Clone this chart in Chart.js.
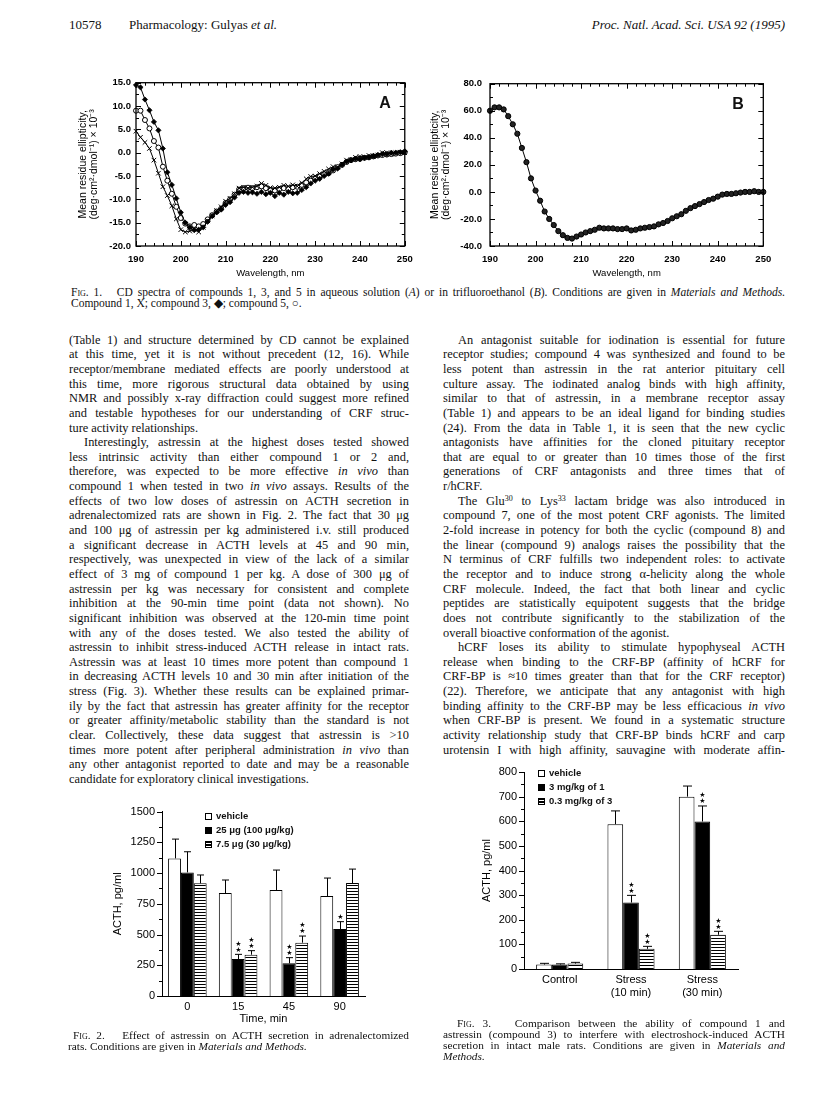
<!DOCTYPE html>
<html>
<head>
<meta charset="utf-8">
<script src="https://cdn.jsdelivr.net/npm/chart.js@4.4.1/dist/chart.umd.min.js"></script>
<style>
  body { margin: 0; background: #fff; }
  #page { position: relative; width: 816px; height: 1114px; overflow: hidden; color: #111; font-family: 'Liberation Serif', 'Times New Roman', serif; }
  canvas { position: absolute; }
  .hd { position: absolute; top: 17px; font-size: 13px; line-height: 16px; white-space: nowrap; }
  .col { position: absolute; font-size: 12.4px; line-height: 14.65px; }
  .cap { position: absolute; }
  .ln { white-space: nowrap; height: 1em; }
  .col .ln { height: 14.65px; }
  .ln span { display: inline-block; white-space: nowrap; }
  .ln sup { font-size: 8px; line-height: 0; vertical-align: 4px; }
  .sc { font-variant: small-caps; }
  .key { position: absolute; font: bold 9.5px 'Liberation Sans', Arial, sans-serif; line-height: 12px; white-space: nowrap; }
  .bx { display: inline-block; width: 5px; height: 5px; border: 1px solid #000; margin-right: 4px; vertical-align: -1px; background: #fff; }
  .bx.blk { background: #000; }
  .bx.str { background: repeating-linear-gradient(to bottom, #000 0 1px, #fff 1px 2.5px); }
  .tag { position: absolute; font: bold 16px 'Liberation Sans', Arial, sans-serif; transform: translate(-50%, -50%); }
</style>
</head>
<body>
<div id="page">
  <div class="hd" style="left:69px">10578</div>
  <div class="hd" style="left:129px">Pharmacology: Gulyas <i>et al.</i></div>
  <div class="hd" style="right:31px"><i>Proc. Natl. Acad. Sci. USA 92 (1995)</i></div>

  <canvas id="fig1a" width="380" height="215" style="left:40px;top:70px"></canvas>
  <canvas id="fig1b" width="380" height="215" style="left:420px;top:70px"></canvas>
  <div class="tag" style="left:385px;top:103px">A</div>
  <div class="tag" style="left:738px;top:104px">B</div>

  <div class="cap" data-w="714" data-ind="9" style="left:71px;top:285.5px;width:714px;font-size:11.5px;line-height:13px">
    <div class="ln"><span><span class="sc">Fig.</span> 1. &nbsp; CD spectra of compounds 1, 3, and 5 in aqueous solution (<i>A</i>) or in trifluoroethanol (<i>B</i>). Conditions are given in <i>Materials and Methods.</i></span></div>
    <div class="ln end"><span>Compound 1, X; compound 3, ◆; compound 5, ○.</span></div>
  </div>

  <div class="col" data-w="340" data-ind="15" style="left:69px;top:332.7px;width:340px">
    <div class="ln"><span>(Table 1) and structure determined by CD cannot be explained</span></div>
    <div class="ln"><span>at this time, yet it is not without precedent (12, 16). While</span></div>
    <div class="ln"><span>receptor/membrane mediated effects are poorly understood at</span></div>
    <div class="ln"><span>this time, more rigorous structural data obtained by using</span></div>
    <div class="ln"><span>NMR and possibly x-ray diffraction could suggest more refined</span></div>
    <div class="ln"><span>and testable hypotheses for our understanding of CRF struc-</span></div>
    <div class="ln end"><span>ture activity relationships.</span></div>
    <div class="ln ind"><span>Interestingly, astressin at the highest doses tested showed</span></div>
    <div class="ln"><span>less intrinsic activity than either compound 1 or 2 and,</span></div>
    <div class="ln"><span>therefore, was expected to be more effective <i>in vivo</i> than</span></div>
    <div class="ln"><span>compound 1 when tested in two <i>in vivo</i> assays. Results of the</span></div>
    <div class="ln"><span>effects of two low doses of astressin on ACTH secretion in</span></div>
    <div class="ln"><span>adrenalectomized rats are shown in Fig. 2. The fact that 30 μg</span></div>
    <div class="ln"><span>and 100 μg of astressin per kg administered i.v. still produced</span></div>
    <div class="ln"><span>a significant decrease in ACTH levels at 45 and 90 min,</span></div>
    <div class="ln"><span>respectively, was unexpected in view of the lack of a similar</span></div>
    <div class="ln"><span>effect of 3 mg of compound 1 per kg. A dose of 300 μg of</span></div>
    <div class="ln"><span>astressin per kg was necessary for consistent and complete</span></div>
    <div class="ln"><span>inhibition at the 90-min time point (data not shown). No</span></div>
    <div class="ln"><span>significant inhibition was observed at the 120-min time point</span></div>
    <div class="ln"><span>with any of the doses tested. We also tested the ability of</span></div>
    <div class="ln"><span>astressin to inhibit stress-induced ACTH release in intact rats.</span></div>
    <div class="ln"><span>Astressin was at least 10 times more potent than compound 1</span></div>
    <div class="ln"><span>in decreasing ACTH levels 10 and 30 min after initiation of the</span></div>
    <div class="ln"><span>stress (Fig. 3). Whether these results can be explained primar-</span></div>
    <div class="ln"><span>ily by the fact that astressin has greater affinity for the receptor</span></div>
    <div class="ln"><span>or greater affinity/metabolic stability than the standard is not</span></div>
    <div class="ln"><span>clear. Collectively, these data suggest that astressin is &gt;10</span></div>
    <div class="ln"><span>times more potent after peripheral administration <i>in vivo</i> than</span></div>
    <div class="ln"><span>any other antagonist reported to date and may be a reasonable</span></div>
    <div class="ln end"><span>candidate for exploratory clinical investigations.</span></div>
  </div>

  <div class="col" data-w="342" data-ind="15" style="left:443px;top:332.7px;width:342px">
    <div class="ln ind"><span>An antagonist suitable for iodination is essential for future</span></div>
    <div class="ln"><span>receptor studies; compound 4 was synthesized and found to be</span></div>
    <div class="ln"><span>less potent than astressin in the rat anterior pituitary cell</span></div>
    <div class="ln"><span>culture assay. The iodinated analog binds with high affinity,</span></div>
    <div class="ln"><span>similar to that of astressin, in a membrane receptor assay</span></div>
    <div class="ln"><span>(Table 1) and appears to be an ideal ligand for binding studies</span></div>
    <div class="ln"><span>(24). From the data in Table 1, it is seen that the new cyclic</span></div>
    <div class="ln"><span>antagonists have affinities for the cloned pituitary receptor</span></div>
    <div class="ln"><span>that are equal to or greater than 10 times those of the first</span></div>
    <div class="ln"><span>generations of CRF antagonists and three times that of</span></div>
    <div class="ln end"><span>r/hCRF.</span></div>
    <div class="ln ind"><span>The Glu<sup>30</sup> to Lys<sup>33</sup> lactam bridge was also introduced in</span></div>
    <div class="ln"><span>compound 7, one of the most potent CRF agonists. The limited</span></div>
    <div class="ln"><span>2-fold increase in potency for both the cyclic (compound 8) and</span></div>
    <div class="ln"><span>the linear (compound 9) analogs raises the possibility that the</span></div>
    <div class="ln"><span>N terminus of CRF fulfills two independent roles: to activate</span></div>
    <div class="ln"><span>the receptor and to induce strong α-helicity along the whole</span></div>
    <div class="ln"><span>CRF molecule. Indeed, the fact that both linear and cyclic</span></div>
    <div class="ln"><span>peptides are statistically equipotent suggests that the bridge</span></div>
    <div class="ln"><span>does not contribute significantly to the stabilization of the</span></div>
    <div class="ln end"><span>overall bioactive conformation of the agonist.</span></div>
    <div class="ln ind"><span>hCRF loses its ability to stimulate hypophyseal ACTH</span></div>
    <div class="ln"><span>release when binding to the CRF-BP (affinity of hCRF for</span></div>
    <div class="ln"><span>CRF-BP is ≈10 times greater than that for the CRF receptor)</span></div>
    <div class="ln"><span>(22). Therefore, we anticipate that any antagonist with high</span></div>
    <div class="ln"><span>binding affinity to the CRF-BP may be less efficacious <i>in vivo</i></span></div>
    <div class="ln"><span>when CRF-BP is present. We found in a systematic structure</span></div>
    <div class="ln"><span>activity relationship study that CRF-BP binds hCRF and carp</span></div>
    <div class="ln"><span>urotensin I with high affinity, sauvagine with moderate affin-</span></div>
  </div>

  <canvas id="fig2" width="300" height="235" style="left:80px;top:795px"></canvas>
  <div class="key" style="left:205px;top:810px"><i class="bx"></i>vehicle</div>
  <div class="key" style="left:205px;top:824px"><i class="bx blk"></i>25 μg (100 μg/kg)</div>
  <div class="key" style="left:205px;top:838px"><i class="bx str"></i>7.5 μg (30 μg/kg)</div>

  <div class="cap" data-w="341" data-ind="5" style="left:68px;top:1029.5px;width:341px;font-size:11.3px;line-height:11px">
    <div class="ln ind"><span><span class="sc">Fig.</span> 2. &nbsp; Effect of astressin on ACTH secretion in adrenalectomized</span></div>
    <div class="ln end"><span>rats. Conditions are given in <i>Materials and Methods.</i></span></div>
  </div>

  <canvas id="fig3" width="300" height="250" style="left:470px;top:755px"></canvas>
  <div class="key" style="left:538px;top:767px"><i class="bx"></i>vehicle</div>
  <div class="key" style="left:538px;top:781px"><i class="bx blk"></i>3 mg/kg of 1</div>
  <div class="key" style="left:538px;top:795px"><i class="bx str"></i>0.3 mg/kg of 3</div>

  <div class="cap" data-w="342" data-ind="14" style="left:443px;top:1017.5px;width:342px;font-size:11.3px;line-height:10.8px">
    <div class="ln ind"><span><span class="sc">Fig.</span> 3. &nbsp; Comparison between the ability of compound 1 and</span></div>
    <div class="ln"><span>astressin (compound 3) to interfere with electroshock-induced ACTH</span></div>
    <div class="ln"><span>secretion in intact male rats. Conditions are given in <i>Materials and</i></span></div>
    <div class="ln end"><span><i>Methods.</i></span></div>
  </div>
</div>

<script>
// ---- data: Fig. 1 (CD spectra), mean residue ellipticity x 10^-3
const wavelengths = [190,191,192,193,194,195,196,197,198,199,200,201,202,203,204,205,206,207,208,209,210,
  211,212,213,214,215,216,217,218,219,220,221,222,223,224,225,226,227,228,229,230,
  231,232,233,234,235,236,237,238,239,240,241,242,243,244,245,246,247,248,249,250]

// A: aqueous solution
const compound1A = [4.6,3.3,2.2,0.9,-1.6,-4.4,-7.3,-9.2,-11.4,-14.2,-16.5,-17.0,-16.8,-16.4,-17.0,-16.0,-14.6,-13.5,-12.4,-11.6,-10.4,
  -9.8,-8.8,-7.6,-7.4,-7.6,-7.4,-7.2,-6.6,-7.0,-7.5,-7.6,-7.4,-7.0,-7.2,-6.9,-7.2,-6.5,-5.6,-5.1,-5.0,
  -4.5,-4.0,-3.5,-3.0,-3.1,-2.4,-1.6,-1.5,-1.0,-0.8,-1.0,-0.6,-0.8,-0.5,0.0,0.0,-0.3,0.0,0.1,0.0]
const compound3A = [14.5,14.0,11.4,9.1,6.6,4.8,0.9,-4.2,-6.9,-9.8,-12.8,-15.0,-16.0,-16.6,-16.5,-16.0,-14.8,-13.6,-12.8,-12.2,-11.2,
  -10.6,-9.6,-8.6,-8.4,-8.6,-8.5,-8.8,-8.4,-8.9,-8.6,-9.3,-8.6,-9.0,-8.4,-8.7,-8.6,-8.0,-7.4,-6.6,-6.0,
  -5.6,-5.0,-4.5,-3.6,-3.4,-2.6,-1.9,-1.6,-1.3,-1.4,-1.1,-1.0,-0.7,-0.5,-0.3,-0.3,0.0,0.0,0.1,0.3]
const compound5A = [9.0,9.0,7.0,5.2,2.5,1.1,-3.0,-6.0,-8.8,-11.6,-14.0,-15.2,-15.8,-15.5,-15.8,-15.3,-14.3,-13.4,-12.6,-12.0,-10.8,
  -10.0,-9.0,-7.9,-7.6,-7.5,-7.6,-7.4,-7.2,-7.6,-8.0,-8.1,-7.8,-7.6,-7.8,-7.4,-7.3,-6.9,-6.4,-6.0,-5.5,
  -5.0,-4.6,-4.4,-3.8,-3.1,-2.6,-2.0,-1.6,-1.4,-1.3,-1.1,-1.0,-0.8,-0.6,-0.5,-0.4,-0.3,-0.2,-0.1,0.1]
// B: trifluoroethanol (the three compounds overlap)
const compoundsB = [60.0,62.5,62.5,61.0,56.0,50.0,43.0,32.5,22.0,10.0,1.0,-6.5,-14.5,-20.0,-24.5,-29.0,-32.0,-34.0,-34.5,-33.0,-31.5,
  -30.0,-29.0,-28.0,-26.5,-27.0,-27.0,-27.0,-27.5,-27.5,-27.0,-28.5,-28.0,-27.0,-26.5,-26.0,-25.5,-24.0,-23.0,-21.5,-19.5,
  -18.0,-16.5,-14.0,-12.0,-10.5,-9.0,-7.5,-6.0,-5.0,-3.5,-2.0,-1.5,-1.5,-1.0,-0.5,0.0,0.0,0.5,0.0,0.0]

// ---- data: Fig. 2 (ACTH, pg/ml, adrenalectomized rats)
const times = ['0', '15', '45', '90']
const vehicle2 = [1120, 838, 862, 814]
const vehicle2Err = [157, 106, 163, 146]
const dose25 = [1006, 301, 266, 545]
const dose25Err = [168, 38, 46, 60]
const dose25Stars = [0, 2, 2, 1]
const dose75 = [917, 336, 434, 919]
const dose75Err = [68, 33, 54, 114]
const dose75Stars = [0, 2, 2, 0]

// ---- data: Fig. 3 (ACTH, pg/ml, intact rats)
const groups = [['Control'], ['Stress', '(10 min)'], ['Stress', '(30 min)']]
const vehicle3 = [18, 588, 700]
const vehicle3Err = [5, 54, 43]
const comp1 = [18, 270, 599]
const comp1Err = [3, 29, 63]
const comp1Stars = [0, 2, 2]
const comp3 = [22, 82, 139]
const comp3Err = [5, 10, 14]
const comp3Stars = [0, 2, 2]

const yTitleCD = ['Mean residue ellipticity,', '(deg\u00b7cm\u00b2\u00b7dmol\u207b\u00b9) \u00d7 10\u207b\u00b3']

// ---- justify the text lines so they fill their column
document.querySelectorAll('.col, .cap').forEach(box => {
  const W = Number(box.dataset.w), ind = Number(box.dataset.ind)
  box.querySelectorAll('.ln').forEach(ln => {
    const span = ln.firstElementChild
    let avail = W
    if (ln.classList.contains('ind')) { span.style.marginLeft = ind + 'px'; avail -= ind }
    const w = span.getBoundingClientRect().width
    if (ln.classList.contains('end') && w <= avail) return
    const text = span.textContent
    const gaps = (text.match(/[ \u00a0]/g) || []).length
    let ws = gaps ? (avail - w) / gaps : 0
    if (ws < -1.2) {
      const rest = (avail - w) + 1.2 * gaps
      ws = -1.2
      span.style.letterSpacing = (rest / text.length) + 'px'
    }
    span.style.wordSpacing = ws + 'px'
  })
})

Chart.defaults.color = '#000'
Chart.defaults.font.family = "'Liberation Sans', Arial, sans-serif"
Chart.defaults.animation = false
Chart.defaults.responsive = false
Chart.defaults.plugins.legend.display = false
Chart.defaults.plugins.tooltip.enabled = false

// tick marks: inward on a closed frame (Fig. 1) or outward on the y axis (Figs. 2, 3)
const tickMarks = {
  id: 'tickMarks',
  afterDraw(chart, args, o) {
    if (!o.yMinor) return
    const {ctx, chartArea: a, scales: {x, y}} = chart
    ctx.save()
    ctx.strokeStyle = '#000'
    ctx.lineWidth = 1
    if (o.frame) {
      ctx.lineWidth = 1.3
      ctx.strokeRect(a.left, a.top, a.right - a.left, a.bottom - a.top)
      ctx.lineWidth = 1
    }
    ctx.beginPath()
    if (o.xMinor) {
      for (let v = x.min; v <= x.max + 1e-6; v += o.xMinor) {
        const px = Math.round(x.getPixelForValue(v)) + 0.5
        const len = Math.abs(v % o.xMajor) < 1e-6 ? 5 : 3
        ctx.moveTo(px, a.bottom); ctx.lineTo(px, a.bottom - len)
        ctx.moveTo(px, a.top); ctx.lineTo(px, a.top + len)
      }
    }
    for (let v = y.min; v <= y.max + 1e-6; v += o.yMinor) {
      const py = Math.round(y.getPixelForValue(v)) + 0.5
      const len = Math.abs(v % o.yMajor) < 1e-6 ? 5 : 3
      if (o.frame) {
        ctx.moveTo(a.left, py); ctx.lineTo(a.left + len, py)
        ctx.moveTo(a.right, py); ctx.lineTo(a.right - len, py)
      } else {
        ctx.moveTo(a.left - len, py); ctx.lineTo(a.left, py)
      }
    }
    ctx.stroke()
    ctx.restore()
  }
}

// upward error bars and significance stars on bar charts
const errorBars = {
  id: 'errorBars',
  afterDatasetsDraw(chart, args, o) {
    if (!o.cap) return
    const ctx = chart.ctx, y = chart.scales.y
    ctx.save()
    ctx.strokeStyle = '#000'
    ctx.fillStyle = '#000'
    ctx.lineWidth = 1
    ctx.font = "7px 'DejaVu Sans'"
    ctx.textAlign = 'center'
    ctx.textBaseline = 'middle'
    chart.data.datasets.forEach((ds, i) => {
      chart.getDatasetMeta(i).data.forEach((bar, j) => {
        const top = y.getPixelForValue(ds.data[j] + ds.errors[j])
        const bx = Math.round(bar.x) + 0.5
        ctx.beginPath()
        ctx.moveTo(bx, bar.y); ctx.lineTo(bx, top)
        ctx.moveTo(bx - o.cap, top); ctx.lineTo(bx + o.cap, top)
        ctx.stroke()
        const n = ds.stars ? ds.stars[j] : 0
        for (let k = 0; k < n; k++) ctx.fillText('\u2605', bx, top - 4.5 - 6 * k)
      })
    })
    ctx.restore()
  }
}

Chart.register(tickMarks, errorBars)

function stripes() {
  const c = document.createElement('canvas')
  c.width = 4; c.height = 3
  const g = c.getContext('2d')
  g.fillStyle = '#fff'; g.fillRect(0, 0, 4, 3)
  g.fillStyle = '#000'; g.fillRect(0, 0, 4, 1)
  return g.createPattern(c, 'repeat')
}

const toPts = ys => wavelengths.map((w, i) => ({x: w, y: ys[i]}))

function cdChart(id, datasets, yMin, yMax, yStep, yMinor, yw, padRight, yPad, titlePad) {
  return new Chart(document.getElementById(id), {
    type: 'line',
    data: {datasets},
    options: {
      layout: {autoPadding: false, padding: {top: 12.7, right: padRight, left: 0, bottom: 0}},
      elements: {line: {borderColor: '#000', borderWidth: 1, tension: 0}},
      scales: {
        x: {
          type: 'linear', min: 190, max: 250,
          grid: {display: false, drawTicks: false},
          border: {display: false},
          ticks: {stepSize: 10, padding: 7.3, font: {size: 9.5, weight: 'bold'}, maxRotation: 0, callback: v => String(v)},
          title: {display: true, text: 'Wavelength, nm', font: {size: 9.5}, padding: {top: 0, bottom: 6}},
          afterFit: s => { s.height = 39 }
        },
        y: {
          min: yMin, max: yMax,
          grid: {display: false, drawTicks: false},
          border: {display: false},
          ticks: {stepSize: yStep, padding: yPad, font: {size: 9.5, weight: 'bold'}, callback: v => v.toFixed(1)},
          title: {display: true, text: yTitleCD, font: {size: 10.5, lineHeight: 1.05}, padding: {top: titlePad, bottom: 0}},
          afterFit: s => { s.width = yw }
        }
      },
      plugins: {tickMarks: {frame: true, xMinor: 2, xMajor: 10, yMinor: yMinor, yMajor: yStep}}
    }
  })
}

cdChart('fig1a', [
  {label: 'Compound 1', data: toPts(compound1A), clip: false, pointStyle: 'crossRot', pointRadius: 3.2, pointBorderWidth: 1, pointBorderColor: '#000', pointBackgroundColor: '#000'},
  {label: 'Compound 3', data: toPts(compound3A), clip: false, pointStyle: 'rectRot', pointRadius: 2.6, pointBorderWidth: 0.8, pointBorderColor: '#000', pointBackgroundColor: '#000'},
  {label: 'Compound 5', data: toPts(compound5A), clip: false, pointStyle: 'circle', pointRadius: 2.5, pointBorderWidth: 1, pointBorderColor: '#000', pointBackgroundColor: '#fff'}
], -20, 15, 5, 2.5, 96, 11, 5, 37.2)

cdChart('fig1b', [
  {label: 'Compounds 1, 3, 5', data: toPts(compoundsB), clip: false, pointStyle: 'circle', pointRadius: 2.6, pointBorderWidth: 1, pointBorderColor: '#000', pointBackgroundColor: '#222'}
], -40, 80, 20, 10, 70, 36.7, 8, 9.5)

function barChart(id, labels, datasets, yMax, yStep, yMinor, yw, padTop, padRight, xh, titlePad, xTitle, cap, catPct) {
  return new Chart(document.getElementById(id), {
    type: 'bar',
    data: {labels, datasets},
    options: {
      layout: {autoPadding: false, padding: {top: padTop, right: padRight, left: 0, bottom: 0}},
      datasets: {bar: {categoryPercentage: catPct, barPercentage: 1, borderColor: '#000', borderWidth: 1}},
      scales: {
        x: {
          grid: {display: false, drawTicks: false},
          border: {display: true, color: '#000', width: 1},
          ticks: {padding: 4.4, font: {size: 11}, maxRotation: 0},
          title: {display: !!xTitle, text: xTitle, font: {size: 11}, padding: {top: 0, bottom: 4.4}},
          afterFit: s => { s.height = xh }
        },
        y: {
          min: 0, max: yMax,
          grid: {display: false, drawTicks: false},
          border: {display: true, color: '#000', width: 1},
          ticks: {stepSize: yStep, padding: 7, font: {size: 11}, callback: v => String(v)},
          title: {display: true, text: 'ACTH, pg/ml', font: {size: 11}, padding: {top: titlePad, bottom: 0}},
          afterFit: s => { s.width = yw }
        }
      },
      plugins: {tickMarks: {yMinor: yMinor, yMajor: yStep}, errorBars: {cap: cap}}
    }
  })
}

const stripe = stripes()

barChart('fig2', times, [
  {label: 'vehicle', data: vehicle2, errors: vehicle2Err, backgroundColor: '#fff'},
  {label: '25 \u03bcg (100 \u03bcg/kg)', data: dose25, errors: dose25Err, stars: dose25Stars, backgroundColor: '#000'},
  {label: '7.5 \u03bcg (30 \u03bcg/kg)', data: dose75, errors: dose75Err, stars: dose75Stars, backgroundColor: stripe}
], 1500, 250, 125, 82, 16.7, 15, 34, 31.4, 'Time, min', 3.5, 0.76)

barChart('fig3', groups, [
  {label: 'vehicle', data: vehicle3, errors: vehicle3Err, backgroundColor: '#fff'},
  {label: '3 mg/kg of 1', data: comp1, errors: comp1Err, stars: comp1Stars, backgroundColor: '#000'},
  {label: '0.3 mg/kg of 3', data: comp3, errors: comp3Err, stars: comp3Stars, backgroundColor: stripe}
], 800, 100, 50, 54, 17, 32, 36, 10.4, '', 4.5, 0.66)
</script>
</body>
</html>
